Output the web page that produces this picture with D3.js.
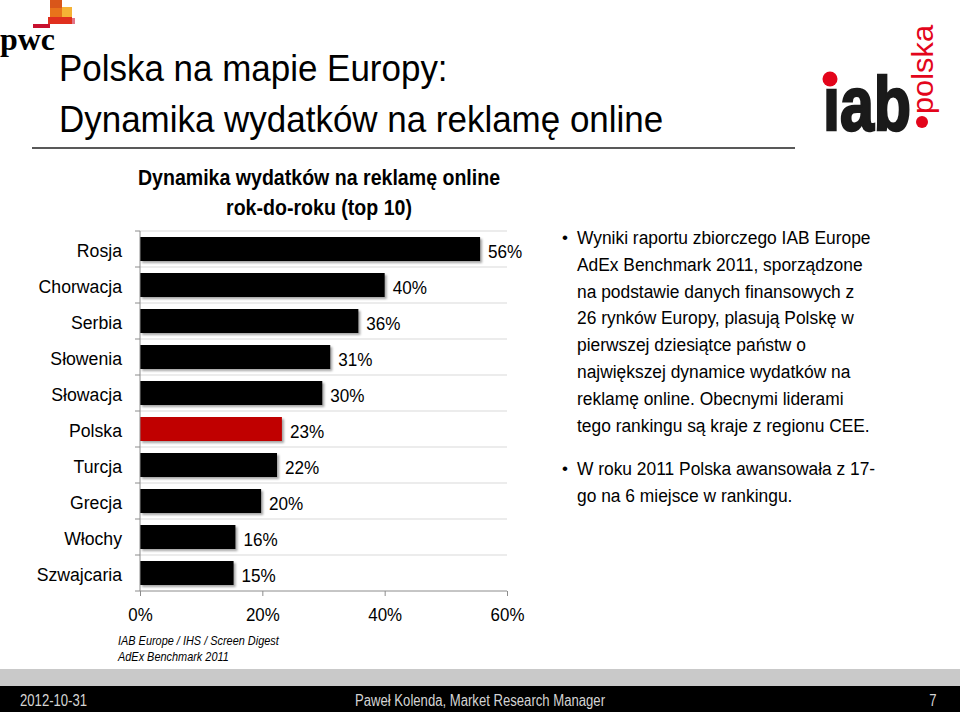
<!DOCTYPE html>
<html>
<head>
<meta charset="utf-8">
<script src="https://cdn.jsdelivr.net/npm/d3@7"></script>
<style>
  html, body { margin: 0; padding: 0; background: #fff; }
  svg { display: block; }
  svg text { font-family: "Liberation Sans", Arial, sans-serif; }
</style>
</head>
<body>
<div id="chart"></div>
<script>
// ---- data ----
const categories = ["Rosja", "Chorwacja", "Serbia", "Słowenia", "Słowacja", "Polska", "Turcja", "Grecja", "Włochy", "Szwajcaria"];
const values = [0.556, 0.40, 0.357, 0.311, 0.298, 0.232, 0.224, 0.198, 0.156, 0.153];
const highlight = "Polska";
const xTicks = [0, 0.2, 0.4, 0.6];
const titleLines = ["Polska na mapie Europy:", "Dynamika wydatków na reklamę online"];
const chartTitleLines = ["Dynamika wydatków na reklamę online", "rok-do-roku (top 10)"];
const sourceLines = ["IAB Europe / IHS / Screen Digest", "AdEx Benchmark 2011"];
const bullet1 = ["Wyniki raportu zbiorczego IAB Europe", "AdEx Benchmark 2011, sporządzone", "na podstawie danych finansowych z", "26 rynków Europy, plasują Polskę w", "pierwszej dziesiątce państw o", "największej dynamice wydatków na", "reklamę online. Obecnymi liderami", "tego rankingu są kraje z regionu CEE."];
const bullet2 = ["W roku 2011 Polska awansowała z 17-", "go na 6 miejsce w rankingu."];
const footer = { date: "2012-10-31", author: "Paweł Kolenda, Market Research Manager", page: "7" };

const W = 960, H = 712;
const svg = d3.select("#chart").append("svg").attr("width", W).attr("height", H);

// horizontally condense text (narrow typeface look) while keeping its anchor position
function condense(sel, sx) {
  sel.each(function () {
    const t = d3.select(this);
    const xv = +(t.attr("x") || 0);
    t.attr("x", xv / sx).attr("transform", `scale(${sx},1)`);
  });
}

const defs = svg.append("defs");
const f = defs.append("filter").attr("id", "shadow").attr("x", "-5%").attr("y", "-20%").attr("width", "115%").attr("height", "160%");
f.append("feDropShadow").attr("dx", 2).attr("dy", 2).attr("stdDeviation", 1.2).attr("flood-color", "#000").attr("flood-opacity", 0.35);

// ---- PwC logo ----
const logo = svg.append("g");
[[50, 0, 12, 24, "#e8731b"], [50, 0, 12, 8, "#d9561a"], [62, 7, 10, 10, "#f5b335"], [48, 17, 24, 7, "#e0301e"], [72, 18, 3, 6, "#e27588"], [33, 24, 17, 4, "#c8102e"]]
  .forEach(r => logo.append("rect").attr("x", r[0]).attr("y", r[1]).attr("width", r[2]).attr("height", r[3]).attr("fill", r[4]));
logo.append("text").attr("x", 0).attr("y", 50).style("font-family", "'Liberation Serif', serif")
  .attr("font-weight", "bold").attr("font-size", 31).attr("fill", "#000")
  .attr("textLength", 55).attr("lengthAdjust", "spacingAndGlyphs").text("pwc");

// ---- IAB logo ----
const iab = svg.append("g");
iab.append("text").attr("x", 823).attr("y", 130)
  .attr("font-weight", "bold").attr("font-size", 76).attr("fill", "#1a1a1a")
  .attr("stroke", "#1a1a1a").attr("stroke-width", 2.5)
  .attr("textLength", 88).attr("lengthAdjust", "spacingAndGlyphs").text("ıab");
iab.append("circle").attr("cx", 830).attr("cy", 79).attr("r", 7.5).attr("fill", "#e3051b");
iab.append("circle").attr("cx", 922).attr("cy", 122).attr("r", 6).attr("fill", "#e3051b");
iab.append("text").attr("transform", "translate(933,114) rotate(-90)")
  .attr("font-size", 30).attr("fill", "#e3051b").attr("textLength", 89).attr("lengthAdjust", "spacingAndGlyphs").text("polska");

// ---- main title ----
svg.append("g").selectAll("text").data(titleLines).join("text")
  .attr("x", 59).attr("y", (d, i) => 81 + i * 51)
  .attr("font-size", 37).attr("fill", "#000")
  .text(d => d)
  .call(condense, 0.945);
svg.append("line").attr("x1", 32).attr("x2", 795).attr("y1", 148).attr("y2", 148).attr("stroke", "#595959").attr("stroke-width", 2);

// ---- chart ----
const x = d3.scaleLinear().domain([0, 0.6]).range([140, 507]);
const y = d3.scaleBand().domain(categories).range([231, 591]).paddingInner(1 / 3).paddingOuter(1 / 6);
const step = y.step();
const boundaries = d3.range(categories.length + 1).map(i => 231 + i * step);

const chart = svg.append("g");

chart.append("g").selectAll("text").data(chartTitleLines).join("text")
  .attr("x", 319).attr("y", (d, i) => 185 + i * 30).attr("text-anchor", "middle")
  .attr("font-weight", "bold").attr("font-size", 22).attr("fill", "#000").text(d => d)
  .call(condense, 0.89);

// gridlines
chart.append("g").selectAll("line").data(boundaries.slice(0, -1)).join("line")
  .attr("x1", x(0)).attr("x2", x(0.6)).attr("y1", d => d).attr("y2", d => d)
  .attr("stroke", "#d9d9d9").attr("stroke-width", 1);

// bars
chart.append("g").selectAll("rect").data(categories).join("rect")
  .attr("x", x(0)).attr("y", d => y(d)).attr("height", y.bandwidth())
  .attr("width", (d, i) => x(values[i]) - x(0))
  .attr("fill", d => d === highlight ? "#c00000" : "#000")
  .attr("filter", "url(#shadow)");

// value labels
const fmt = d3.format(".0%");
chart.append("g").selectAll("text").data(categories).join("text")
  .attr("x", (d, i) => x(values[i]) + 8).attr("y", d => y(d) + y.bandwidth() / 2 + 2)
  .attr("dy", "0.35em").attr("font-size", 19).attr("fill", "#000")
  .text((d, i) => fmt(values[i]))
  .call(condense, 0.9);

// left axis (labels) + boundary ticks
const yAxis = chart.append("g").attr("transform", `translate(${x(0)},0)`)
  .call(d3.axisLeft(y).tickSize(0).tickPadding(18));
yAxis.select(".domain").remove();
yAxis.selectAll("text").attr("font-size", 19).attr("fill", "#000").attr("font-family", null).attr("dy", "0.4em")
  .call(condense, 0.93);
chart.append("line").attr("x1", x(0)).attr("x2", x(0)).attr("y1", 231).attr("y2", 591).attr("stroke", "#8c8c8c");
chart.append("g").selectAll("line").data(boundaries).join("line")
  .attr("x1", x(0) - 5).attr("x2", x(0)).attr("y1", d => d).attr("y2", d => d).attr("stroke", "#8c8c8c");

// bottom axis
const xAxis = chart.append("g").attr("transform", "translate(0,591)")
  .call(d3.axisBottom(x).tickValues(xTicks).tickFormat(fmt).tickSize(5).tickPadding(12));
xAxis.select(".domain").attr("stroke", "#8c8c8c").attr("d", `M${x(0)},0H${x(0.6)}`);
xAxis.selectAll(".tick line").attr("stroke", "#8c8c8c");
xAxis.selectAll("text").attr("font-size", 19).attr("fill", "#000").attr("font-family", null)
  .call(condense, 0.89);

// source
chart.append("g").selectAll("text").data(sourceLines).join("text")
  .attr("x", 118).attr("y", (d, i) => 645 + i * 16).attr("font-style", "italic")
  .attr("font-size", 13).attr("fill", "#000").text(d => d)
  .call(condense, 0.84);

// ---- bullets ----
const bl = svg.append("g").attr("font-size", 19).attr("fill", "#000");
function bullet(lines, top) {
  bl.append("text").attr("x", 562).attr("y", top - 1).attr("font-size", 17).text("•");
  bl.append("g").selectAll("text").data(lines).join("text")
    .attr("x", 577).attr("y", (d, i) => top + i * 26.8).text(d => d)
    .call(condense, 0.915);
}
bullet(bullet1, 244);
bullet(bullet2, 475);

// ---- footer ----
svg.append("rect").attr("x", 0).attr("y", 669).attr("width", W).attr("height", 17).attr("fill", "#c9c9c9");
svg.append("rect").attr("x", 0).attr("y", 686).attr("width", W).attr("height", 26).attr("fill", "#000");
const ft = svg.append("g").attr("font-size", 16).attr("fill", "#d4d4d4");
ft.append("text").attr("x", 20).attr("y", 706).text(footer.date).call(condense, 0.82);
ft.append("text").attr("x", 480).attr("y", 706).attr("text-anchor", "middle").text(footer.author).call(condense, 0.82);
ft.append("text").attr("x", 933).attr("y", 706).attr("text-anchor", "middle").text(footer.page).call(condense, 0.82);
</script>
</body>
</html>
